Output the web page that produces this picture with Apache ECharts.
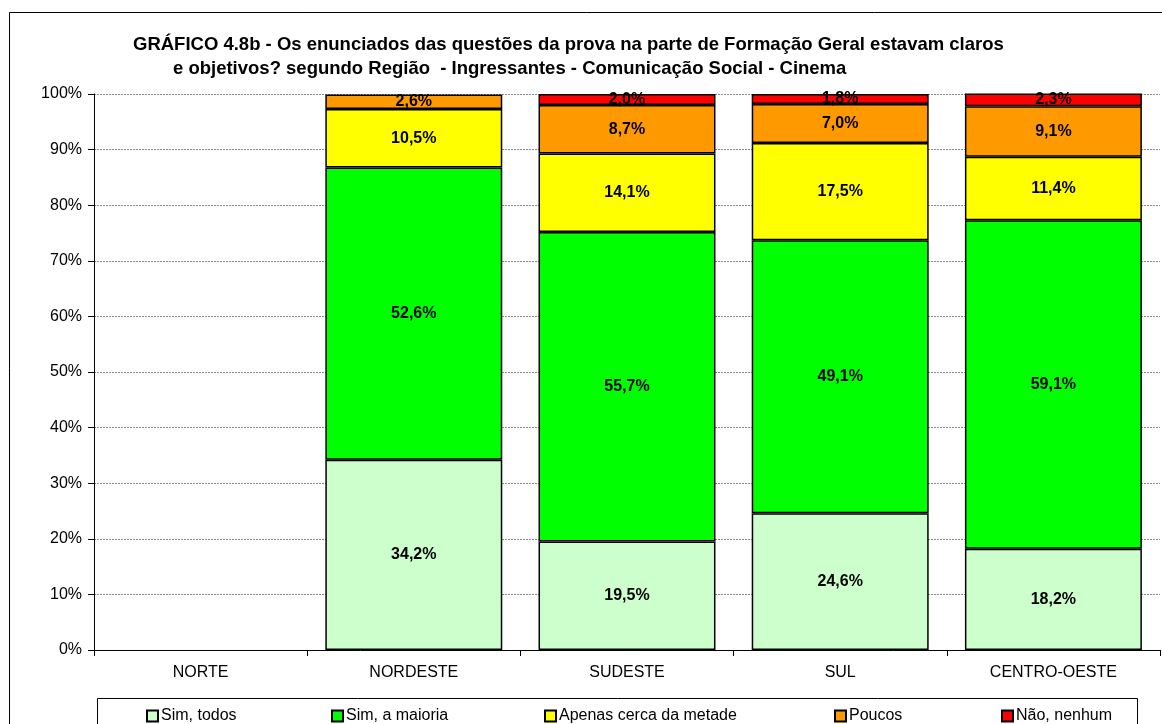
<!DOCTYPE html>
<html>
<head>
<meta charset="utf-8">
<script src="https://cdn.jsdelivr.net/npm/echarts@6/dist/echarts.min.js"></script>
<style>
html,body{margin:0;padding:0;background:#fff;}
#chart{width:1162px;height:724px;}
</style>
</head>
<body>
<div id="chart"></div>
<script>
const categories = ['NORTE', 'NORDESTE', 'SUDESTE', 'SUL', 'CENTRO-OESTE'];
const seriesNames = ['Sim, todos', 'Sim, a maioria', 'Apenas cerca da metade', 'Poucos', 'Não, nenhum'];
const simTodos = [null, 34.2, 19.5, 24.6, 18.2];
const simMaioria = [null, 52.6, 55.7, 49.1, 59.1];
const metade = [null, 10.5, 14.1, 17.5, 11.4];
const poucos = [null, 2.6, 8.7, 7.0, 9.1];
const nenhum = [null, null, 2.0, 1.8, 2.3];
const yTicks = [0, 10, 20, 30, 40, 50, 60, 70, 80, 90, 100];
const titleLine1 = 'GRÁFICO 4.8b - Os enunciados das questões da prova na parte de Formação Geral estavam claros';
const titleLine2 = 'e objetivos? segundo Região  - Ingressantes - Comunicação Social - Cinema';

const seriesData = [simTodos, simMaioria, metade, poucos, nenhum];
const colors = ['#CCFFCC', '#00FF00', '#FFFF00', '#FF9900', '#FF0000'];
const FONT = 'Liberation Sans, Arial, sans-serif';

const chart = echarts.init(document.getElementById('chart'), null, {renderer: 'canvas'});

const legendLefts = [146, 331, 544, 834, 1001];

const option = {
  animation: false,
  backgroundColor: '#fff',
  title: [
    {text: titleLine1, left: 133, top: 35, padding: 0, textStyle: {fontFamily: FONT, fontSize: 18.5, fontWeight: 'bold', color: '#000'}},
    {text: titleLine2, left: 173, top: 59, padding: 0, textStyle: {fontFamily: FONT, fontSize: 18.5, fontWeight: 'bold', color: '#000'}}
  ],
  graphic: [
    {type: 'rect', shape: {x: 9.5, y: 12.5, width: 1200, height: 800}, style: {fill: 'none', stroke: '#000', lineWidth: 1}, silent: true, z: -1},
    {type: 'rect', shape: {x: 97.5, y: 698.5, width: 1040, height: 60}, style: {fill: '#fff', stroke: '#000', lineWidth: 1}, silent: true, z: 0}
  ],
  legend: seriesNames.map((n, i) => ({
    data: [n],
    left: legendLefts[i],
    top: 708,
    icon: 'rect',
    itemWidth: 11,
    itemHeight: 11,
    itemGap: 0,
    padding: 0,
    textStyle: {fontFamily: FONT, fontSize: 16, color: '#000', padding: [0, 0, 0, -2]},
    z: 5
  })),
  grid: {left: 94, right: 2, top: 94, bottom: 74, containLabel: false},
  xAxis: {
    type: 'category',
    data: categories,
    axisLine: {lineStyle: {color: '#000', width: 1}},
    axisTick: {show: true, alignWithLabel: false, length: 6, lineStyle: {color: '#000'}},
    axisLabel: {fontFamily: FONT, fontSize: 16, color: '#000', margin: 15}
  },
  yAxis: {
    type: 'value',
    min: 0,
    max: 100,
    interval: 10,
    axisLine: {show: true, lineStyle: {color: '#000', width: 1}},
    axisTick: {show: true, length: 6, lineStyle: {color: '#000'}},
    axisLabel: {fontFamily: FONT, fontSize: 16, color: '#000', margin: 12,
      formatter: v => yTicks.includes(v) ? v + '%' : ''},
    splitLine: {show: true, lineStyle: {color: '#888', type: [2, 1], width: 1}}
  },
  series: seriesNames.map((n, i) => ({
    name: n,
    type: 'bar',
    stack: 'total',
    barWidth: '83%',
    data: seriesData[i],
    itemStyle: {color: colors[i], borderColor: '#000', borderWidth: 1.5},
    label: {
      show: true,
      position: 'inside',
      fontFamily: FONT,
      fontSize: 16,
      fontWeight: 'bold',
      color: '#000',
      formatter: p => p.value > 0 ? p.value.toFixed(1).replace('.', ',') + '%' : ''
    }
  }))
};
chart.setOption(option);
</script>
</body>
</html>
